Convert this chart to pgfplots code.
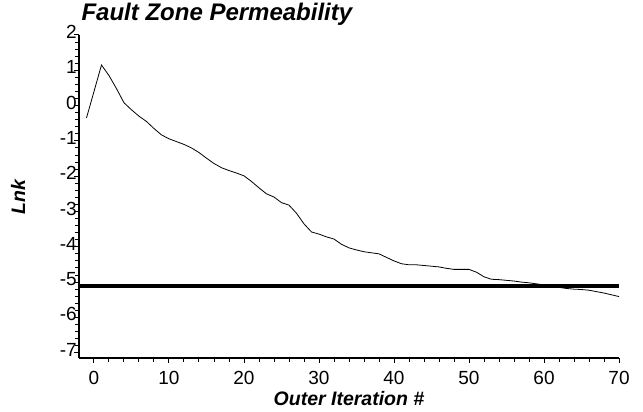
\documentclass[border=0pt]{standalone}
\usepackage{fontspec}
\setmainfont{Liberation Sans}
\usepackage{pgfplots}
\pgfplotsset{compat=1.18}
\begin{document}
\begin{tikzpicture}
\begin{axis}[
  at={(0,0)}, anchor=south west,
  scale only axis, width=540pt, height=323pt,
  xmin=-2, xmax=70, ymin=-7.15, ymax=2,
  axis x line=bottom, axis y line=left,
  axis line style={line width=1.3pt, -},
  xtick={0,10,...,70}, xticklabels={0,10,20,30,40,50,60,70},
  ytick={-7,-6,...,2}, yticklabels={-7,-6,-5,-4,-3,-2,-1,0,1,2},
  minor x tick num=4, minor y tick num=4,
  tick align=outside,
  major tick length=5pt, minor tick length=4pt,
  every tick/.style={line width=1pt, black},
  xticklabel style={font=\fontsize{19}{19}\selectfont, anchor=base, yshift=-22pt},
  yticklabel style={font=\fontsize{19}{19}\selectfont, anchor=east, inner sep=0pt, xshift=3pt, yshift=3pt},
  title={\textbf{\textit{Fault Zone Permeability}}},
  title style={font=\fontsize{24}{24}\selectfont, at={(axis description cs:0,1)}, anchor=base west, xshift=-1pt, yshift=8pt},
  xlabel={\textbf{\textit{Outer Iteration \#}}},
  xlabel style={font=\fontsize{19.5}{19.5}\selectfont, at={(axis description cs:0.5,-0.1486)}, anchor=base},
  ylabel={\textbf{\textit{Lnk}}},
  ylabel style={font=\fontsize{19.5}{19.5}\selectfont, at={(axis description cs:-0.113,0.5)}, anchor=center, rotate=0},
  clip=false,
]
\addplot[black, line width=0.8pt] coordinates {
(-1,-0.35) (1,1.15) (2,0.85) (3,0.48) (4,0.08) (5,-0.12) (6,-0.30) (7,-0.45)
(8,-0.65) (9,-0.83) (10,-0.94) (11,-1.02) (12,-1.10) (13,-1.20) (14,-1.33)
(15,-1.49) (16,-1.64) (17,-1.76) (18,-1.84) (19,-1.91) (20,-1.99) (21,-2.15)
(22,-2.33) (23,-2.50) (24,-2.59) (25,-2.75) (26,-2.82) (27,-3.05) (28,-3.35)
(29,-3.58) (30,-3.64) (31,-3.72) (32,-3.78) (33,-3.93) (34,-4.03) (35,-4.09)
(36,-4.14) (37,-4.17) (38,-4.20) (39,-4.30) (40,-4.40) (41,-4.48) (42,-4.51)
(43,-4.51) (44,-4.53) (45,-4.55) (46,-4.57) (47,-4.61) (48,-4.64) (49,-4.64)
(50,-4.64) (51,-4.72) (52,-4.85) (53,-4.92) (54,-4.93) (55,-4.95) (56,-4.97)
(57,-5.00) (58,-5.02) (59,-5.05) (60,-5.08) (61,-5.12) (62,-5.15) (63,-5.18)
(64,-5.20) (65,-5.21) (66,-5.23) (67,-5.27) (68,-5.31) (69,-5.36) (70,-5.41)
};
\addplot[black, line width=3.5pt] coordinates {(-2,-5.11) (70,-5.11)};
\end{axis}
\pgfresetboundingbox
\path (-79pt,-54pt) rectangle (564pt,358pt);
\end{tikzpicture}
\end{document}
